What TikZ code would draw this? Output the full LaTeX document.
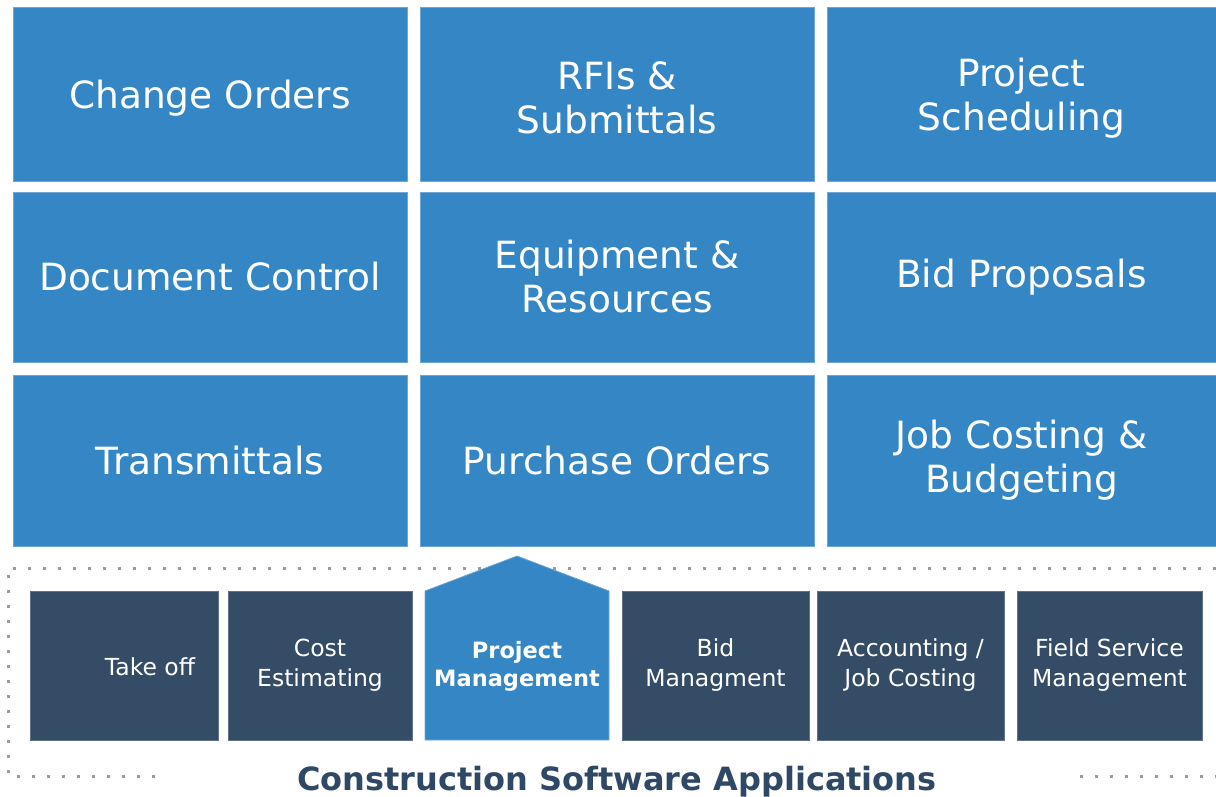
\documentclass[tikz,border=0pt]{standalone}
\usepackage{fontspec}
\setmainfont{DejaVu Sans}
\definecolor{topblue}{HTML}{3586C5}
\definecolor{topedge}{HTML}{6FA6D4}
\definecolor{darkbox}{HTML}{344C66}
\definecolor{darkedge}{HTML}{5F7288}
\definecolor{titlec}{HTML}{2E4865}
\definecolor{dotc}{HTML}{9A9A9A}
\tikzset{
  bigbox/.style={fill=topblue, draw=topedge, line width=0.8pt, inner sep=0pt, text=white, align=center,
    font=\fontsize{37.5}{44}\selectfont},
  bigtext/.style={inner sep=0pt, text=white, align=center, font=\fontsize{37.5}{44}\selectfont},
  smallbox/.style={fill=darkbox, draw=darkedge, line width=0.8pt, inner sep=0pt, text=white, align=center,
    minimum height=149pt, font=\fontsize{23.5}{30}\selectfont},
  boxtext/.style={inner sep=0pt, text=white, align=center, font=\fontsize{23.5}{30}\selectfont},
  dotline/.style={dotc, line width=3pt, dash pattern=on 3pt off 12pt},
}
\begin{document}
\begin{tikzpicture}[x=1pt,y=-1pt]
\useasboundingbox (0,0) rectangle (1216,796);
% top grid
\node[bigbox, minimum width=394pt, minimum height=174pt] (co) at (210,94) {};
\node[bigtext] (cot) at (210,98) {Change Orders};
\node[bigbox, minimum width=394pt, minimum height=174pt] (rfi) at (617,94) {};
\node[bigtext] (rfit) at (617,98) {RFIs \&\\Submittals};
\node[bigbox, minimum width=389pt, minimum height=174pt] (ps) at (1021.5,94) {};
\node[bigtext] (pst) at (1021.5,98) {Project\\Scheduling};
\node[bigbox, minimum width=394pt, minimum height=170pt] (dc) at (210,277) {Document Control};
\node[bigbox, minimum width=394pt, minimum height=170pt] (er) at (617,277) {Equipment \&\\Resources};
\node[bigbox, minimum width=389pt, minimum height=170pt] (bp) at (1021.5,277) {Bid Proposals};
\node[bigbox, minimum width=394pt, minimum height=171pt] (tr) at (210,460.5) {Transmittals};
\node[bigbox, minimum width=394pt, minimum height=171pt] (po) at (617,460.5) {Purchase Orders};
\node[bigbox, minimum width=389pt, minimum height=171pt] (jc) at (1021.5,460.5) {Job Costing \&\\Budgeting};
% dotted frame
\coordinate (fa) at (8,568);
\coordinate (fb) at (1216,568);
\coordinate (fc) at (8,776);
\coordinate (fd) at (155,776);
\coordinate (fe) at (1080,776);
\coordinate (ff) at (1216,776);
\draw[dotline] (fb) -- (fa) -- (fc) -- (fd);
\draw[dotline] (fe) -- (ff);
% bottom boxes
\node[smallbox, minimum width=188pt] (to) at (124,665.5) {};
\node[boxtext] (tot) at (150,667) {Take off};
\node[smallbox, minimum width=184pt] (ce) at (320,665.5) {Cost\\Estimating};
\coordinate (p1) at (425,740);
\coordinate (p2) at (425,591);
\coordinate (p3) at (517,556);
\coordinate (p4) at (609,591);
\coordinate (p5) at (609,740);
\fill[topblue, draw=topedge, line width=0.8pt] (p1) -- (p2) -- (p3) -- (p4) -- (p5) -- cycle;
\node[boxtext, font=\fontsize{22.5}{28}\bfseries\selectfont] (pm) at (517,666) {Project\\Management};
\node[smallbox, minimum width=187pt] (bm) at (715.5,665.5) {Bid\\Managment};
\node[smallbox, minimum width=187pt] (ac) at (910.5,665.5) {Accounting /\\Job Costing};
\node[smallbox, minimum width=185pt] (fs) at (1109.5,665.5) {Field Service\\Management};
% title
\node[inner sep=0pt, anchor=base, text=titlec, font=\fontsize{32}{36}\bfseries\selectfont] (title) at (617,790) {Construction Software Applications};
\end{tikzpicture}
\end{document}
